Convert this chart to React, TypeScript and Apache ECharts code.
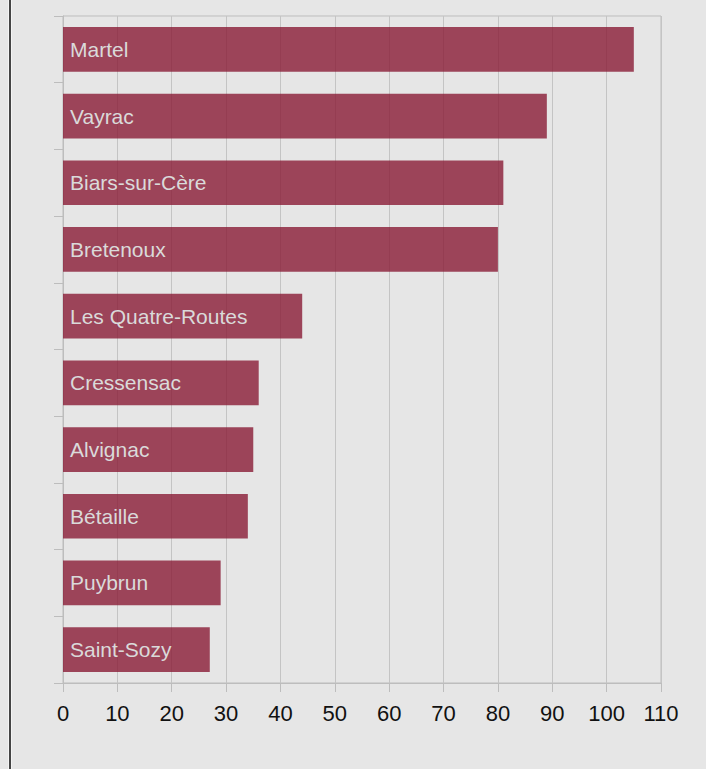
import React, { useEffect, useRef } from "react";
import * as echarts from "echarts";

const categories = [
  "Martel",
  "Vayrac",
  "Biars-sur-Cère",
  "Bretenoux",
  "Les Quatre-Routes",
  "Cressensac",
  "Alvignac",
  "Bétaille",
  "Puybrun",
  "Saint-Sozy",
];
const values = [105, 89, 81, 80, 44, 36, 35, 34, 29, 27];

export default function App() {
  const ref = useRef<HTMLDivElement>(null);
  useEffect(() => {
    if (!ref.current) return;
    const chart = echarts.init(ref.current, undefined, { renderer: "svg" });
    chart.setOption({
      animation: false,
      backgroundColor: "#e6e6e6",
      textStyle: { fontFamily: "'Liberation Sans', Arial, sans-serif" },
      grid: { left: 63, right: 45, top: 16, bottom: 86, containLabel: false,
        show: true, borderColor: "#bdbdbd", borderWidth: 1, backgroundColor: "transparent" },
      graphic: [
        { type: "rect", shape: { x: 8, y: 0, width: 4, height: 769 }, style: { fill: "#f4f4f4" }, z: 100 },
        { type: "rect", shape: { x: 9, y: 0, width: 2, height: 769 }, style: { fill: "#444444" }, z: 101 },
      ],
      xAxis: {
        type: "value",
        min: 0,
        max: 110,
        interval: 10,
        axisLine: { show: true, lineStyle: { color: "#bdbdbd", width: 1 } },
        axisTick: { show: true, length: 9, lineStyle: { color: "#bdbdbd" } },
        axisLabel: { color: "#111", fontSize: 22, margin: 19, fontFamily: "'Liberation Sans', Arial, sans-serif" },
        splitLine: { show: true, lineStyle: { color: "#c4c4c4", width: 1 } },
      },
      yAxis: {
        type: "category",
        data: categories,
        inverse: true,
        axisLine: { show: true, lineStyle: { color: "#bdbdbd", width: 1 } },
        axisTick: { show: true, length: 9, lineStyle: { color: "#bdbdbd" } },
        axisLabel: { show: false },
        splitLine: { show: false },
      },
      series: [
        {
          type: "bar",
          data: values,
          barWidth: "67%",
          itemStyle: { color: "rgba(138,28,54,0.8)" },
          z: 1,
          label: {
            show: true,
            position: "insideLeft",
            offset: [2, 0],
            formatter: (p: any) => p.name,
            color: "#dadada",
            fontSize: 21,
            fontFamily: "'Liberation Sans', Arial, sans-serif",
          },
        },
      ],
    });
    return () => chart.dispose();
  }, []);
  return (
    <div
      ref={ref}
      style={{ position: "fixed", left: 0, top: 0, width: 706, height: 769 }}
    />
  );
}
